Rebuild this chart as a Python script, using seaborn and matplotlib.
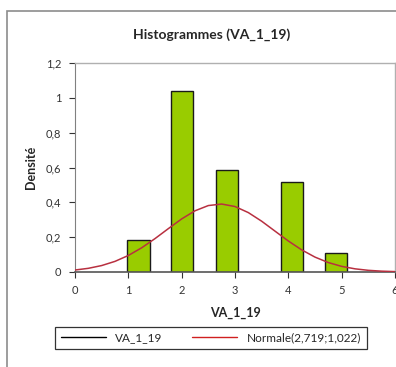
import numpy as np
import pandas as pd
import matplotlib
matplotlib.use("Agg")
import matplotlib.pyplot as plt
import seaborn as sns
from matplotlib.lines import Line2D
from matplotlib.patches import Rectangle

# bins of the histogram (left edge, right edge) and density
bin_left = [0.98, 1.80, 2.64, 3.87, 4.69]
bin_right = [1.40, 2.22, 3.05, 4.28, 5.10]
density = [0.186, 1.04, 0.583, 0.515, 0.107]

# normal curve
curve_x = [0.0, 0.25, 0.5, 0.75, 1.0, 1.25, 1.5, 1.75, 2.0, 2.25, 2.5, 2.75, 3.0,
           3.25, 3.5, 3.75, 4.0, 4.25, 4.5, 4.75, 5.0, 5.25, 5.5, 5.75, 6.0]
curve_y = [0.0114, 0.0211, 0.0370, 0.0610, 0.0949, 0.1390, 0.1917, 0.2490, 0.3048,
           0.3514, 0.3815, 0.3902, 0.3759, 0.3411, 0.2916, 0.2347, 0.1780, 0.1271,
           0.0855, 0.0542, 0.0323, 0.0182, 0.0096, 0.0048, 0.0023]

x_ticks = [0, 1, 2, 3, 4, 5, 6]
y_ticks = [0, 0.2, 0.4, 0.6, 0.8, 1.0, 1.2]
y_labels = ["0", "0,2", "0,4", "0,6", "0,8", "1", "1,2"]

sns.set_style("white")
plt.rcParams["font.family"] = ["Lato", "DejaVu Sans"]

W, H = 396, 367
fig = plt.figure(figsize=(W / 100, H / 100), dpi=100)
fig.patch.set_facecolor("white")

# outer chart border
fig.patches.append(Rectangle((7 / W, -0.05), 1.2, 1.05 - 11 / H, transform=fig.transFigure,
                             fill=False, edgecolor="#8c8c8c", linewidth=1.2, zorder=0))

ax = fig.add_axes([75 / W, 1 - 272 / H, 320 / W, (272 - 63) / H])

bars = pd.DataFrame({"left": bin_left, "right": bin_right, "density": density})
bars["width"] = bars["right"] - bars["left"]
ax.bar(bars["left"], bars["density"], width=bars["width"], align="edge",
       color="#99CC00", edgecolor="#1a1a1a", linewidth=1.0, zorder=2)

curve = pd.DataFrame({"x": curve_x, "y": curve_y})
sns.lineplot(data=curve, x="x", y="y", ax=ax, color="#B83040", linewidth=1.1,
             zorder=3, legend=False)

ax.set_xlim(0, 6)
ax.set_ylim(0, 1.2)
ax.set_xticks(x_ticks)
ax.set_xticklabels([str(t) for t in x_ticks])
ax.set_yticks(y_ticks)
ax.set_yticklabels(y_labels)
ax.tick_params(axis="both", labelsize=8, colors="#333333", length=4, width=0.8,
               direction="out", left=True, bottom=True)
ax.tick_params(axis="y", pad=6)
ax.tick_params(axis="x", pad=5)

for side in ["top", "right"]:
    ax.spines[side].set_color("#b0b0b0")
    ax.spines[side].set_linewidth(1.0)
ax.spines["left"].set_color("#808080")
ax.spines["bottom"].set_color("#555555")
ax.spines["bottom"].set_linewidth(1.2)

ax.set_xlabel("VA_1_19", fontsize=9, fontweight="bold", labelpad=8)
ax.set_ylabel("Densité", fontsize=9, fontweight="bold", labelpad=6)
fig.text(212 / W, 1 - 35 / H, "Histogrammes (VA_1_19)", ha="center", va="center",
         fontsize=10, fontweight="bold")

handles = [Line2D([], [], color="black", linewidth=1.0),
           Line2D([], [], color="#D02020", linewidth=1.0)]
leg = fig.legend(handles, ["VA_1_19", "Normale(2,719;1,022)"], ncol=2,
                 loc="center", bbox_to_anchor=(211 / W, 1 - 338 / H),
                 fontsize=8.5, frameon=True, fancybox=False, handlelength=3.8,
                 columnspacing=2.5, borderpad=0.5)
leg.get_frame().set_edgecolor("black")
leg.get_frame().set_linewidth(0.9)

fig.savefig("out.png", dpi=100)
